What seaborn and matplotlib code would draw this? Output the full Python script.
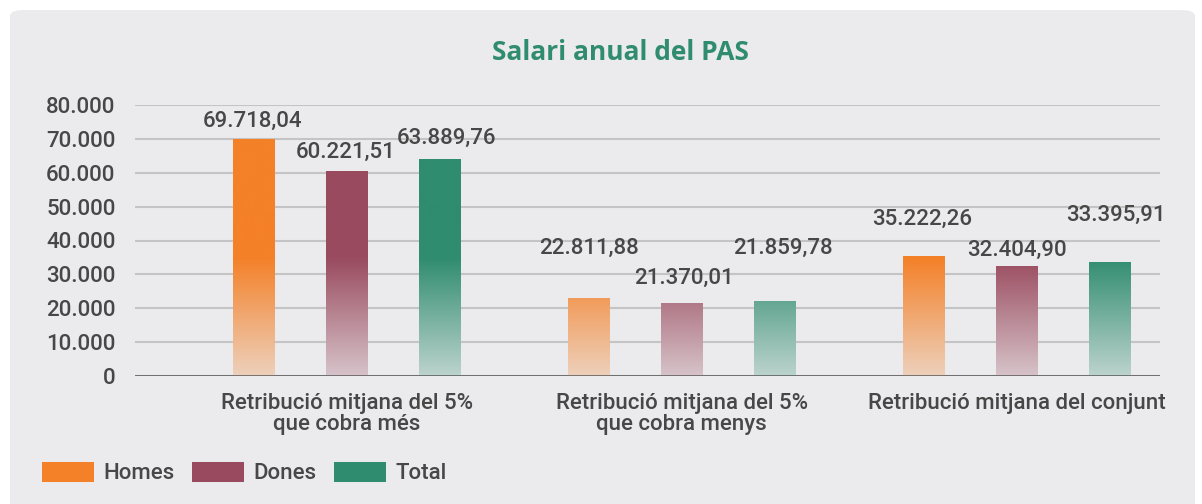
# plot.py
# Salari anual del PAS - grouped bars with a fade towards the baseline

import numpy as np
import pandas as pd
import seaborn as sns
import matplotlib.pyplot as plt
from matplotlib.patches import FancyBboxPatch, Patch
from matplotlib.colors import to_rgb

# Data
categories = [
    "Retribució mitjana del 5%\nque cobra més",
    "Retribució mitjana del 5%\nque cobra menys",
    "Retribució mitjana del conjunt",
]
series = ["Homes", "Dones", "Total"]
homes = [69718.04, 22811.88, 35222.26]
dones = [60221.51, 21370.01, 32404.90]
total = [63889.76, 21859.78, 33395.91]
value_labels = [
    ["69.718,04", "22.811,88", "35.222,26"],
    ["60.221,51", "21.370,01", "32.404,90"],
    ["63.889,76", "21.859,78", "33.395,91"],
]
y_ticks = [0, 10000, 20000, 30000, 40000, 50000, 60000, 70000, 80000]
y_tick_labels = ["0", "10.000", "20.000", "30.000", "40.000",
                 "50.000", "60.000", "70.000", "80.000"]

# Style
colors = ["#f48027", "#994a5e", "#2f8c6e"]
BG = "#ebebed"
TEXT = "#474747"
TITLE_GREEN = "#2f8c6e"
# label offsets (pixels: dx, dy above bar top) per series, per category
label_offsets = [
    [(-1, 18), (0, 50), (-1, 37)],
    [(-1, 20), (2, 25), (0, 16)],
    [(7, 21), (8, 54), (6, 47)],
]

sns.set_style("white")
plt.rcParams["font.family"] = ["Roboto", "DejaVu Sans"]
plt.rcParams["font.weight"] = "medium"

df = pd.DataFrame({
    "categoria": categories * 3,
    "serie": np.repeat(series, 3),
    "valor": homes + dones + total,
})

fig = plt.figure(figsize=(12.02, 5.04), dpi=100, facecolor="white")

# light grey card behind the chart
card = FancyBboxPatch((10 / 1202, -0.2), 1185 / 1202, 1.2 - 10 / 504,
                      boxstyle="round,pad=0,rounding_size=0.012",
                      transform=fig.transFigure, facecolor=BG,
                      edgecolor="none", zorder=-5)
fig.patches.append(card)

ax = fig.add_axes([135 / 1202, 1 - 376 / 504, 1025 / 1202, 271 / 504])
ax.set_zorder(2)
ax.set_facecolor("none")

XLIM = (-0.632, 2.428)

sns.barplot(data=df, x="categoria", y="valor", hue="serie",
            hue_order=series, order=categories, palette=colors,
            width=0.833, gap=0.55, legend=False, ax=ax, zorder=3)

ax.set_xlim(*XLIM)
ax.set_ylim(0, 80000)
ax.set_yticks(y_ticks)
ax.set_yticklabels(y_tick_labels)
ax.set_xlabel("")
ax.set_ylabel("")
ax.tick_params(axis="y", length=0, pad=14, labelsize=16, labelcolor=TEXT)
ax.tick_params(axis="x", length=0, pad=12, labelsize=16, labelcolor=TEXT)
for lbl in ax.get_xticklabels():
    lbl.set_linespacing(1.0)

ax.grid(axis="y", color="#c4c4c4", linewidth=1.5, zorder=0)
ax.set_axisbelow(True)
for side in ["top", "right", "left", "bottom"]:
    ax.spines[side].set_visible(False)
ax.axhline(0, color="#555555", linewidth=1.8, zorder=5)

# replace each bar by a vertical gradient (solid at top, fading at bottom)
bg_rgb = np.array(to_rgb(BG))
bars = [p for p in ax.patches if p.get_height() > 0]
for i, p in enumerate(bars):
    s = i // 3
    base = np.array(to_rgb(colors[s]))
    x0, w, h = p.get_x(), p.get_width(), p.get_height()
    yy = np.linspace(0, h, 200)
    alpha = 0.25 + 0.75 * np.clip(yy / 35000, 0, 1)
    img = alpha[:, None] * base + (1 - alpha[:, None]) * bg_rgb
    ax.imshow(img[:, None, :], extent=[x0, x0 + w, 0, h], origin="lower",
              aspect="auto", zorder=3, interpolation="bilinear")
    p.set_visible(False)

    c = i % 3
    dx, dy = label_offsets[s][c]
    ax.annotate(value_labels[s][c], (x0 + w / 2, h),
                xytext=(dx * 0.72, dy * 0.72), textcoords="offset points",
                ha="center", va="center", fontsize=16, color=TEXT,
                zorder=6)

ax.set_aspect("auto")
ax.set_xlim(*XLIM)
ax.set_ylim(0, 80000)

fig.text(0.516, 1 - 52 / 504, "Salari anual del PAS", ha="center",
         va="center", fontsize=19, fontweight="bold", color=TITLE_GREEN,
         family=["Open Sans", "DejaVu Sans"])

handles = [Patch(facecolor=c, edgecolor="none") for c in colors]
fig.legend(handles, series, loc="center left",
           bbox_to_anchor=(22 / 1202, 1 - 473 / 504), ncol=3, frameon=False,
           fontsize=16, labelcolor=TEXT, handlelength=2.35, handleheight=1.0,
           handletextpad=0.4, columnspacing=0.8)

plt.savefig("out.png", dpi=100, facecolor="white")
